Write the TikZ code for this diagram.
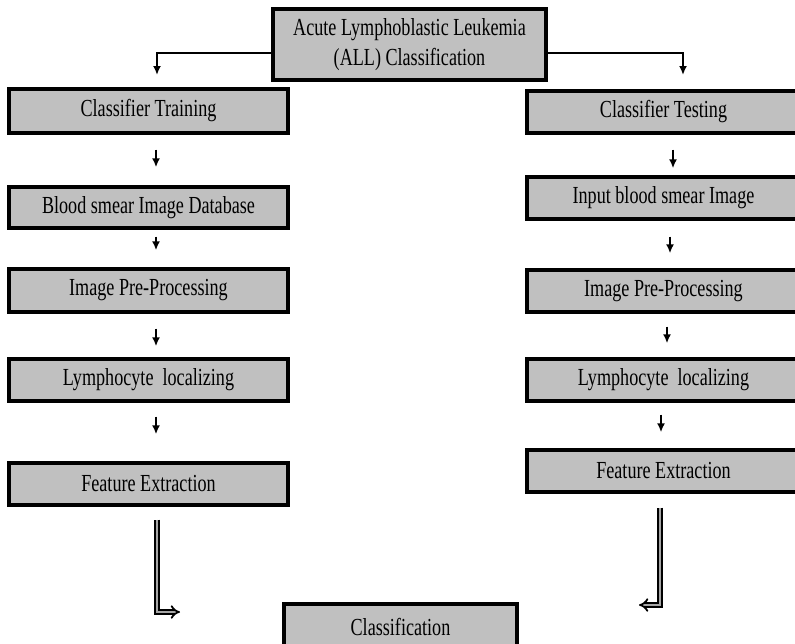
\documentclass[tikz,border=0pt]{standalone}
\usepackage{fontspec}
\setmainfont{Liberation Serif}[FakeStretch=0.74]
\usetikzlibrary{arrows.meta}
\definecolor{boxgray}{HTML}{C0C0C0}
\begin{document}
\begin{tikzpicture}[x=1pt,y=-1pt,
  box/.style={draw=black, line width=3.4pt, fill=boxgray, inner sep=0pt,
    font=\fontsize{24.5}{30}\selectfont, align=center},
  arr/.style={line width=1.8pt, -{Latex[length=9pt,width=8pt]}},
  conn/.style={line width=2.4pt, -{Latex[length=9pt,width=8pt]}},
  dbl/.style={double=gray!70, double distance=2.6pt, line width=1.8pt, -{Implies[scale=1.3]}}]
\useasboundingbox (0,0) rectangle (795,643);
\clip (0,0) rectangle (795,643);
% boxes
\node[box, minimum width=273pt, minimum height=71pt] (top) at (409.5,44.5) {Acute Lymphoblastic Leukemia\\(ALL) Classification};
\node[box, minimum width=279pt, minimum height=44pt] (train) at (148.5,111) {Classifier Training};
\node[box, minimum width=279pt, minimum height=41pt] (blood) at (148.5,207.5) {Blood smear Image Database};
\node[box, minimum width=279pt, minimum height=43pt] (lpre) at (148.5,290.5) {Image Pre-Processing};
\node[box, minimum width=279pt, minimum height=42pt] (llym) at (148.5,380) {Lymphocyte\ \ localizing};
\node[box, minimum width=279pt, minimum height=42pt] (lfeat) at (148.5,484) {Feature Extraction};
\node[box, minimum width=273pt, minimum height=42pt] (test) at (663.5,112) {Classifier Testing};
\node[box, minimum width=273pt, minimum height=42pt] (input) at (663.5,198) {Input blood smear Image};
\node[box, minimum width=273pt, minimum height=42pt] (rpre) at (663.5,291) {Image Pre-Processing};
\node[box, minimum width=273pt, minimum height=42pt] (rlym) at (663.5,380) {Lymphocyte\ \ localizing};
\node[box, minimum width=273pt, minimum height=42pt] (rfeat) at (663.5,471) {Feature Extraction};
\node[box, minimum width=233pt, minimum height=46pt] (classif) at (400.5,627) {Classification};
% helper coordinates
\coordinate (ly) at (0,53);
\coordinate (ltop) at (157,75);
\coordinate (rtop) at (683,75);
\coordinate (lx) at (156,0);
\coordinate (rx1) at (673,0);
\coordinate (rx2) at (670,0);
\coordinate (rx3) at (667,0);
\coordinate (rx4) at (661,0);
\coordinate (dlx) at (157,0);
\coordinate (drx) at (660,0);
\coordinate (ltip) at (180,612);
\coordinate (rtip) at (639,605);
% top connectors
\draw[conn] (top.west |- ly) -| (ltop);
\draw[conn] (top.east |- ly) -| (rtop);
% left column arrows
\draw[arr, shorten <=15pt, shorten >=18pt] (train.south -| lx) -- (blood.north -| lx);
\draw[arr, shorten <=7pt, shorten >=17pt] (blood.south -| lx) -- (lpre.north -| lx);
\draw[arr, shorten <=15pt, shorten >=11pt] (lpre.south -| lx) -- (llym.north -| lx);
\draw[arr, shorten <=14pt, shorten >=27pt] (llym.south -| lx) -- (lfeat.north -| lx);
% right column arrows
\draw[arr, shorten <=15pt, shorten >=7pt] (test.south -| rx1) -- (input.north -| rx1);
\draw[arr, shorten <=16pt, shorten >=15pt] (input.south -| rx2) -- (rpre.north -| rx2);
\draw[arr, shorten <=13pt, shorten >=14pt] (rpre.south -| rx3) -- (rlym.north -| rx3);
\draw[arr, shorten <=12pt, shorten >=16pt] (rlym.south -| rx4) -- (rfeat.north -| rx4);
% double arrows to classification
\draw[dbl] ([yshift=-13pt]lfeat.south -| dlx) |- (ltip);
\draw[dbl] ([yshift=-14pt]rfeat.south -| drx) |- (rtip);
\end{tikzpicture}
\end{document}
